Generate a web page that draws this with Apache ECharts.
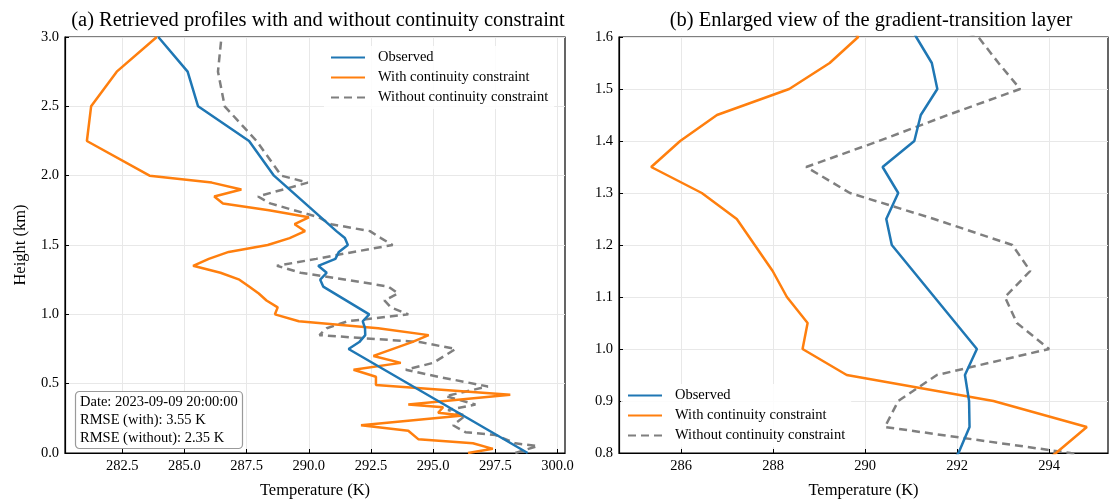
<!DOCTYPE html>
<html>
<head>
<meta charset="utf-8">
<script src="https://cdn.jsdelivr.net/npm/echarts@6/dist/echarts.min.js"></script>
<style>
  html, body { margin: 0; padding: 0; background: #fff; }
  #main { width: 1110px; height: 499px; }
</style>
</head>
<body>
<div id="main"></div>
<script>
// heights (km) and temperatures (K)
var obsHeights = [0, 0.75, 0.8, 0.85, 0.9, 0.95, 1.0, 1.2, 1.25, 1.3, 1.35, 1.4, 1.45, 1.5, 1.55, 1.6, 2.0, 2.25, 2.5, 2.75, 3.0];
var obsTemps = [298.8, 291.6, 292.03, 292.27, 292.26, 292.17, 292.43, 290.58, 290.46, 290.72, 290.38, 291.07, 291.21, 291.57, 291.45, 291.11, 288.6, 287.6, 285.55, 285.13, 283.95];

var withHeights = [0, 0.03, 0.07, 0.10, 0.16, 0.20, 0.27, 0.29, 0.33, 0.35, 0.42, 0.49, 0.55, 0.60, 0.65, 0.70, 0.80, 0.85, 0.90, 0.95, 1.0, 1.05, 1.10, 1.15, 1.20, 1.25, 1.30, 1.35, 1.40, 1.45, 1.50, 1.55, 1.60, 1.65, 1.70, 1.75, 1.80, 1.85, 1.90, 1.95, 2.0, 2.25, 2.5, 2.75, 3.0];
var withTemps = [296.4, 297.4, 296.6, 294.4, 294.0, 292.1, 296.2, 295.2, 295.4, 294.0, 298.1, 292.7, 292.7, 291.8, 293.7, 292.6, 294.15, 294.82, 292.79, 289.60, 288.64, 288.75, 288.30, 287.99, 287.6, 287.21, 286.45, 285.35, 285.98, 286.78, 288.35, 289.23, 289.85, 289.43, 290.0, 288.4, 286.55, 286.2, 287.29, 286.1, 283.6, 281.08, 281.25, 282.28, 283.89];

var withoutHeights = [0, 0.05, 0.07, 0.13, 0.15, 0.20, 0.27, 0.31, 0.35, 0.41, 0.48, 0.55, 0.60, 0.65, 0.75, 0.80, 0.85, 0.90, 0.95, 1.0, 1.05, 1.10, 1.15, 1.20, 1.25, 1.30, 1.35, 1.40, 1.45, 1.50, 1.55, 1.60, 1.65, 1.70, 1.80, 1.85, 1.95, 2.0, 2.25, 2.5, 2.75, 3.0];
var withoutTemps = [298.3, 299.2, 298.3, 297.5, 296.3, 295.8, 296.3, 295.6, 296.7, 295.5, 297.2, 295.2, 293.9, 295.0, 295.9, 294.46, 290.43, 290.72, 291.56, 294.0, 293.3, 293.04, 293.59, 293.2, 291.5, 289.67, 288.72, 290.3, 291.8, 293.37, 292.9, 292.46, 290.9, 290.4, 288.45, 287.96, 289.96, 288.9, 287.9, 286.62, 286.35, 286.49];

var leftXTicks = [282.5, 285.0, 287.5, 290.0, 292.5, 295.0, 297.5, 300.0];
var leftYTicks = [0, 0.5, 1.0, 1.5, 2.0, 2.5, 3.0];
var rightXTicks = [286, 288, 290, 292, 294];
var rightYTicks = [0.8, 0.9, 1.0, 1.1, 1.2, 1.3, 1.4, 1.5, 1.6];

var seriesNames = ['Observed', 'With continuity constraint', 'Without continuity constraint'];
var infoText = 'Date: 2023-09-09 20:00:00\nRMSE (with): 3.55 K\nRMSE (without): 2.35 K';

function pairs(hs, ts) {
    return hs.map(function (h, i) { return [ts[i], h]; });
}

var font = 'Liberation Serif';
var myChart = echarts.init(document.getElementById('main'));

function xAxisCfg(idx, min, max, ticks, digits) {
    return {
        type: 'value', gridIndex: idx, min: min, max: max,
        name: 'Temperature (K)', nameLocation: 'middle', nameGap: 29,
        nameTextStyle: { fontFamily: font, fontSize: 16.5, color: '#000' },
        axisLine: { show: true, onZero: false, lineStyle: { color: '#000', width: 1.2 } },
        axisTick: { show: true, inside: true, length: 4, customValues: ticks, lineStyle: { color: '#000' } },
        axisLabel: {
            customValues: ticks, fontFamily: font, fontSize: 14.5, color: '#000', margin: 6,
            formatter: function (v) { return v.toFixed(digits); }
        },
        splitLine: { show: true, lineStyle: { color: '#e8e8e8', width: 1 } }
    };
}

function yAxisCfg(idx, min, max, ticks, withName) {
    return {
        type: 'value', gridIndex: idx, min: min, max: max,
        name: withName ? 'Height (km)' : '', nameLocation: 'middle', nameGap: 36,
        nameTextStyle: { fontFamily: font, fontSize: 16.5, color: '#000' },
        axisLine: { show: true, onZero: false, lineStyle: { color: '#000', width: 1.2 } },
        axisTick: { show: true, inside: true, length: 4, customValues: ticks, lineStyle: { color: '#000' } },
        axisLabel: {
            customValues: ticks, fontFamily: font, fontSize: 14.5, color: '#000', margin: 6,
            formatter: function (v) { return v.toFixed(1); }
        },
        splitLine: { show: true, lineStyle: { color: '#e8e8e8', width: 1 } }
    };
}

function makeSeries(gridIdx) {
    return [
        {
            name: seriesNames[0], type: 'line', xAxisIndex: gridIdx, yAxisIndex: gridIdx,
            data: pairs(obsHeights, obsTemps), symbol: 'none', z: 4,
            lineStyle: { color: '#1f77b4', width: 2.5 }, itemStyle: { color: '#1f77b4' }
        },
        {
            name: seriesNames[1], type: 'line', xAxisIndex: gridIdx, yAxisIndex: gridIdx,
            data: pairs(withHeights, withTemps), symbol: 'none', z: 3,
            lineStyle: { color: '#ff7f0e', width: 2.5 }, itemStyle: { color: '#ff7f0e' }
        },
        {
            name: seriesNames[2], type: 'line', xAxisIndex: gridIdx, yAxisIndex: gridIdx,
            data: pairs(withoutHeights, withoutTemps), symbol: 'none', z: 2,
            lineStyle: { color: '#7f7f7f', width: 2.5, type: [8, 5] }, itemStyle: { color: '#7f7f7f' }
        }
    ];
}

var legendBase = {
    orient: 'vertical', itemWidth: 34, itemHeight: 12, itemGap: 5,
    data: seriesNames, backgroundColor: 'rgba(255,255,255,0.85)', padding: [4, 6],
    itemStyle: { opacity: 0 },
    textStyle: { fontFamily: font, fontSize: 14.5, color: '#000', padding: [0, 0, 0, 8] }
};

var option = {
    animation: false,
    backgroundColor: '#fff',
    title: [
        {
            text: '(a) Retrieved profiles with and without continuity constraint',
            left: 313, top: 5, textAlign: 'center',
            textStyle: { fontFamily: font, fontSize: 20.5, fontWeight: 'normal', color: '#000' }
        },
        {
            text: '(b) Enlarged view of the gradient-transition layer',
            left: 866, top: 5, textAlign: 'center',
            textStyle: { fontFamily: font, fontSize: 20.5, fontWeight: 'normal', color: '#000' }
        },
        {
            text: infoText, left: 75, top: 391,
            backgroundColor: 'rgba(255,255,255,0.9)', borderColor: '#9a9a9a', borderWidth: 1.2, borderRadius: 4,
            padding: [2, 5],
            textStyle: { fontFamily: font, fontSize: 14.5, fontWeight: 'normal', color: '#000', lineHeight: 18 }
        }
    ],
    legend: [
        Object.assign({}, legendBase, { left: 324, top: 46 }),
        Object.assign({}, legendBase, { left: 621, top: 384 })
    ],
    grid: [
        { left: 65, top: 37, width: 500, height: 416, show: true, borderColor: '#000', borderWidth: 1.2, outerBoundsMode: 'none' },
        { left: 619, top: 37, width: 489, height: 416, show: true, borderColor: '#000', borderWidth: 1.2, outerBoundsMode: 'none' }
    ],
    xAxis: [
        xAxisCfg(0, 280.2, 300.3, leftXTicks, 1),
        xAxisCfg(1, 284.65, 295.28, rightXTicks, 0)
    ],
    yAxis: [
        yAxisCfg(0, 0, 3, leftYTicks, true),
        yAxisCfg(1, 0.8, 1.6, rightYTicks, false)
    ],
    series: makeSeries(0).concat(makeSeries(1))
};

myChart.setOption(option);
</script>
</body>
</html>
